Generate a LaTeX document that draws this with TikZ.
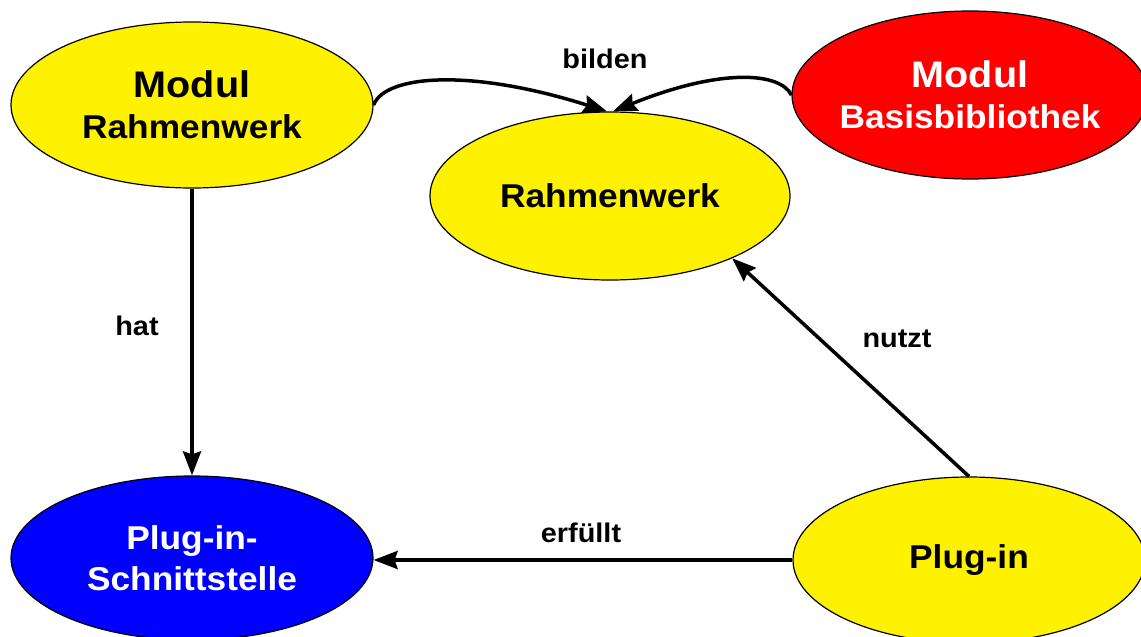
\documentclass[tikz,border=0pt]{standalone}
\usepackage{fontspec}
\setmainfont[FakeStretch=1.07]{Liberation Sans}
\usetikzlibrary{shapes.geometric,arrows.meta}
\begin{document}
\begin{tikzpicture}[x=1pt,y=-1pt,
  bubble/.style={ellipse,draw=black,line width=1.2pt,inner sep=0pt,align=center,
    font=\bfseries\fontsize{33}{41}\selectfont},
  link/.style={line width=3.5pt,-{Stealth[length=24pt,width=18pt,inset=3pt]}},
  lbl/.style={font=\bfseries\fontsize{27}{30}\selectfont,anchor=base}]
\useasboundingbox (0,0) rectangle (1141,637);

% modules and components
\node[bubble,fill=yellow,minimum width=362pt,minimum height=166pt] (mr) at (192,105)
  {{\fontsize{37}{41}\selectfont Modul}\\Rahmenwerk};
\node[bubble,fill=yellow,minimum width=360pt,minimum height=168pt] (rw) at (610,196)
  {Rahmenwerk};
\node[bubble,fill=red,text=white,inner xsep=-12pt,minimum width=356pt,minimum height=168pt] (mb) at (970,95)
  {{\fontsize{37}{41}\selectfont Modul}\\Basisbibliothek};
\node[bubble,fill=blue,text=white,minimum width=362pt,minimum height=164pt] (pis) at (192,558)
  {Plug-in-\\Schnittstelle};
\node[bubble,fill=yellow,minimum width=352pt,minimum height=166pt] (pi) at (969,560)
  {Plug-in};

% relations
\draw[link] (mr.east) .. controls (385,75) and (470,68) .. ([xshift=-3pt]rw.north);
\draw[link] (mb.west) .. controls (780,72) and (720,68) .. ([xshift=3pt]rw.north);
\draw[link] (mr.south) -- (pis.north);
\draw[link] (pi.west) -- (pis.east |- pi.west);
\draw[link] (pi.north) -- (rw.-27);

% relation labels
\node[lbl] (lbilden) at (605,68) {bilden};
\node[lbl] (lhat) at (137,335) {hat};
\node[lbl] (lerf) at (581,542) {erfüllt};
\node[lbl] (lnutzt) at (897,347) {nutzt};
\end{tikzpicture}
\end{document}
